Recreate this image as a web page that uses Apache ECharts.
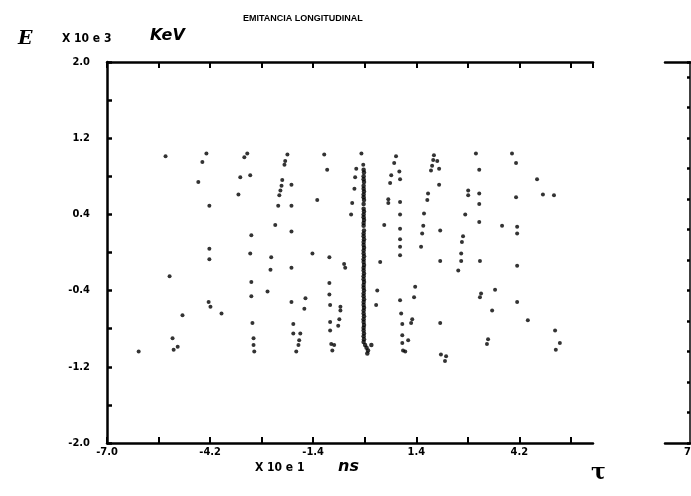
<!DOCTYPE html>
<html><head><meta charset="utf-8">
<script src="https://cdn.jsdelivr.net/npm/echarts@6/dist/echarts.min.js"></script>
<style>html,body{margin:0;padding:0;background:#fff}#c{width:691px;height:496px}</style>
</head><body><div id="c"></div>
<script>
// tick labels
const xLabelValues = [-7.0, -4.2, -1.4, 1.4, 4.2];
const yLabelValues = [-2.0, -1.2, -0.4, 0.4, 1.2, 2.0];
const titleText = 'EMITANCIA LONGITUDINAL';

// points, [tau (x10 ns), E (x10^3 KeV)]
const bandFarLeft = [[-5.41,1.01],[-4.30,1.04],[-4.41,0.95],[-4.52,0.74],[-4.22,0.49],[-4.22,0.04],[-4.22,-0.07],[-5.30,-0.25],[-4.24,-0.52],[-4.19,-0.57],[-4.95,-0.66],[-5.22,-0.90],[-5.19,-1.02],[-5.08,-0.99],[-6.14,-1.04],[-3.89,-0.64]];
const bandLeft = [[-3.19,1.04],[-3.27,1.00],[-2.10,1.03],[-2.16,0.96],[-2.18,0.92],[-3.38,0.79],[-3.11,0.81],[-2.24,0.76],[-2.26,0.70],[-2.29,0.65],[-2.32,0.60],[-1.99,0.71],[-3.43,0.61],[-2.35,0.49],[-1.99,0.49],[-2.43,0.29],[-1.99,0.22],[-3.08,0.18],[-3.11,-0.01],[-2.54,-0.05],[-2.56,-0.18],[-1.99,-0.16],[-3.08,-0.31],[-2.64,-0.41],[-3.08,-0.46],[-1.61,-0.48],[-1.99,-0.52],[-1.64,-0.59],[-3.05,-0.74],[-1.94,-0.75],[-1.94,-0.85],[-1.75,-0.85],[-3.02,-0.90],[-1.78,-0.92],[-3.02,-0.97],[-1.80,-0.97],[-3.00,-1.04],[-1.86,-1.04]];
const bandNearLeft = [[-1.10,1.03],[-0.09,1.04],[-0.04,0.92],[-1.02,0.87],[-0.23,0.88],[-0.26,0.79],[-0.28,0.67],[-1.29,0.55],[-0.34,0.52],[-0.37,0.40],[-1.42,-0.01],[-0.96,-0.05],[-0.56,-0.12],[-0.53,-0.16],[-0.96,-0.32],[-0.96,-0.44],[-0.94,-0.55],[-0.66,-0.57],[-0.66,-0.61],[-0.69,-0.70],[-0.94,-0.73],[-0.72,-0.77],[-0.94,-0.82],[-0.91,-0.96],[-0.83,-0.97],[-0.88,-1.03]];
const centerLine = [[-0.03,0.87],[-0.02,0.84],[-0.03,0.80],[-0.03,0.77],[-0.02,0.74],[-0.03,0.70],[-0.03,0.67],[-0.02,0.64],[-0.03,0.61],[-0.03,0.58],[-0.02,0.55],[-0.03,0.51],[-0.03,0.46],[-0.02,0.43],[-0.03,0.40],[-0.03,0.37],[-0.02,0.34],[-0.03,0.31],[-0.03,0.28],[-0.02,0.23],[-0.03,0.20],[-0.03,0.17],[-0.02,0.14],[-0.03,0.11],[-0.03,0.08],[-0.02,0.05],[-0.03,0.02],[-0.03,-0.01],[-0.02,-0.04],[-0.03,-0.07],[-0.03,-0.10],[-0.02,-0.13],[-0.03,-0.16],[-0.03,-0.19],[-0.02,-0.22],[-0.03,-0.25],[-0.03,-0.28],[-0.02,-0.31],[-0.03,-0.34],[-0.03,-0.37],[-0.02,-0.40],[-0.03,-0.43],[-0.03,-0.46],[-0.02,-0.49],[-0.03,-0.52],[-0.03,-0.55],[-0.02,-0.58],[-0.03,-0.61],[-0.03,-0.64],[-0.02,-0.67],[-0.03,-0.70],[-0.03,-0.73],[-0.02,-0.76],[-0.03,-0.79],[-0.03,-0.82],[-0.02,-0.85],[-0.03,-0.88],[-0.02,-0.91],[-0.03,-0.94],[0.01,-0.97],[0.05,-1.00],[0.09,-1.03],[0.07,-1.06],[0.18,-0.97]];
const bandNearRight = [[0.85,1.01],[0.80,0.94],[0.72,0.81],[0.94,0.85],[0.96,0.77],[0.69,0.73],[0.64,0.56],[0.64,0.52],[0.96,0.53],[0.96,0.40],[0.53,0.29],[0.96,0.25],[0.96,0.14],[0.96,0.06],[0.96,-0.03],[0.42,-0.10],[0.34,-0.40],[0.31,-0.55],[0.96,-0.50],[0.99,-0.64],[1.02,-0.75],[1.02,-0.87],[1.02,-0.95],[1.04,-1.03]];
const bandRight = [[1.88,1.02],[1.86,0.97],[1.97,0.96],[1.83,0.91],[2.02,0.88],[1.80,0.86],[3.02,1.04],[3.11,0.87],[2.02,0.71],[1.72,0.62],[1.70,0.55],[2.81,0.65],[2.81,0.60],[3.11,0.62],[3.11,0.51],[1.61,0.41],[2.73,0.40],[3.11,0.32],[1.59,0.28],[1.56,0.20],[2.05,0.23],[2.67,0.17],[2.64,0.11],[1.53,0.06],[2.62,-0.01],[3.13,-0.09],[2.05,-0.09],[2.62,-0.09],[2.54,-0.19],[1.37,-0.36],[1.34,-0.47],[3.16,-0.43],[3.13,-0.47],[3.54,-0.39],[3.46,-0.61],[1.29,-0.70],[1.26,-0.74],[2.05,-0.74],[1.18,-0.92],[1.10,-1.04],[2.07,-1.07],[2.21,-1.09],[2.18,-1.14],[3.35,-0.91],[3.32,-0.96]];
const bandFarRight = [[4.00,1.04],[4.11,0.94],[4.68,0.77],[4.84,0.61],[5.14,0.60],[4.11,0.58],[3.73,0.28],[4.14,0.27],[4.14,0.20],[4.14,-0.14],[4.14,-0.52],[4.43,-0.71],[5.17,-0.82],[5.30,-0.95],[5.19,-1.02]];

const bands = [bandFarLeft, bandLeft, bandNearLeft, centerLine, bandNearRight, bandRight, bandFarRight];

const lblFont = '"DejaVu Sans Condensed", "Liberation Sans Narrow", sans-serif';
const axisLine = {show: true, onZero: false, lineStyle: {color: '#000', width: 2.5}};
const near = (v, list) => list.some(t => Math.abs(t - v) < 1e-6);

const chart = echarts.init(document.getElementById('c'), null, {renderer: 'canvas'});
chart.setOption({
  animation: false,
  backgroundColor: '#fff',
  title: {
    text: titleText, left: 238, top: 9,
    textStyle: {fontFamily: '"Liberation Sans Narrow", sans-serif', fontWeight: 'bold', fontSize: 9, color: '#000'}
  },
  grid: [
    {left: 107, top: 62, right: 98, bottom: 53, containLabel: false},
    {left: 665, top: 62, right: -300, bottom: 53, containLabel: false}
  ],
  xAxis: [
    {type: 'value', gridIndex: 0, position: 'bottom', min: -7, max: 6.2, interval: 1.4,
     axisLine: axisLine, splitLine: {show: false},
     axisTick: {show: true, inside: true, length: 6, lineStyle: {color: '#000', width: 2}},
     axisLabel: {show: true, margin: 4, color: '#000', fontFamily: lblFont, fontWeight: 'bold', fontSize: 11,
       showMaxLabel: false,
       formatter: v => near(v, xLabelValues) ? v.toFixed(1) : ''}},
    {type: 'value', gridIndex: 0, position: 'top', min: -7, max: 6.2, interval: 1.4,
     axisLine: axisLine, splitLine: {show: false},
     axisTick: {show: true, inside: true, length: 6, lineStyle: {color: '#000', width: 2}},
     axisLabel: {show: false}},
    {type: 'value', gridIndex: 1, position: 'bottom', min: 0, max: 10, interval: 10,
     axisLine: axisLine, splitLine: {show: false}, axisTick: {show: false},
     axisLabel: {show: true, margin: 4, color: '#000', fontFamily: lblFont, fontWeight: 'bold', fontSize: 11,
       align: 'left', padding: [0, 0, 0, 19], formatter: v => v === 0 ? '7.5' : ''}},
    {type: 'value', gridIndex: 1, position: 'top', min: 0, max: 10,
     axisLine: axisLine, splitLine: {show: false}, axisTick: {show: false}, axisLabel: {show: false}}
  ],
  yAxis: [
    {type: 'value', gridIndex: 0, min: -2, max: 2, interval: 0.4,
     axisLine: axisLine, splitLine: {show: false},
     axisTick: {show: true, inside: true, length: 5, lineStyle: {color: '#000', width: 2.5}},
     axisLabel: {show: true, margin: 17, color: '#000', fontFamily: lblFont, fontWeight: 'bold', fontSize: 11,
       formatter: v => near(v, yLabelValues) ? v.toFixed(1) : ''}},
    {type: 'value', gridIndex: 1, min: 0, max: 12.5, interval: 1, offset: -25,
     axisLine: {show: true, onZero: false, lineStyle: {color: '#000', width: 1.5}}, splitLine: {show: false},
     axisTick: {show: true, inside: false, length: 3, lineStyle: {color: '#000', width: 2.5}},
     axisLabel: {show: false}}
  ],
  series: bands.map(b => ({
    type: 'scatter', xAxisIndex: 0, yAxisIndex: 0, data: b,
    symbol: 'circle', symbolSize: b === centerLine ? 4.5 : 4, itemStyle: {color: '#000'}, silent: true
  })),
  graphic: [
    {type: 'text', left: 18, top: 30, style: {text: 'E', font: 'italic bold 19px "DejaVu Serif", serif', fill: '#000'}},
    {type: 'text', left: 62, top: 33, style: {text: 'X 10 e 3', font: 'bold 12px "DejaVu Sans Condensed", sans-serif', fill: '#000'}},
    {type: 'text', left: 150, top: 28, style: {text: 'KeV', font: 'italic bold 16px "DejaVu Sans", sans-serif', fill: '#000'}},
    {type: 'text', left: 255, top: 462, style: {text: 'X 10 e 1', font: 'bold 12px "DejaVu Sans Condensed", sans-serif', fill: '#000'}},
    {type: 'text', left: 338, top: 459, style: {text: 'ns', font: 'italic bold 16px "DejaVu Sans", sans-serif', fill: '#000'}},
    {type: 'text', left: 591, top: 462, style: {text: 'τ', font: 'bold 22px "DejaVu Serif", serif', fill: '#000'}}
  ]
});
</script></body></html>
